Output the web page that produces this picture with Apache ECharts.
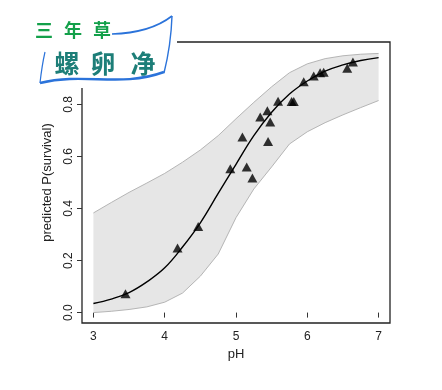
<!DOCTYPE html>
<html>
<head>
<meta charset="utf-8">
<script src="https://cdn.jsdelivr.net/npm/echarts@6/dist/echarts.min.js"></script>
<style>
html,body{margin:0;padding:0;background:#fff;}
#chart{width:442px;height:390px;}
</style>
</head>
<body>
<div id="chart"></div>
<script>
// pH grid for fitted curve and confidence band
const phGrid = [3.0,3.25,3.5,3.75,4.0,4.25,4.5,4.75,5.0,5.25,5.5,5.75,6.0,6.25,6.5,6.75,7.0];
const fitValues = [0.035,0.052,0.077,0.118,0.172,0.252,0.345,0.458,0.57,0.68,0.77,0.84,0.89,0.928,0.952,0.969,0.98];
const bandUpper = [0.383,0.423,0.462,0.498,0.535,0.578,0.625,0.68,0.745,0.808,0.868,0.922,0.956,0.976,0.987,0.993,0.996];
const bandLower = [0.0,0.005,0.012,0.022,0.04,0.075,0.14,0.225,0.365,0.475,0.56,0.648,0.695,0.73,0.76,0.788,0.815];
// observed points
const obsPH = [3.45,4.18,4.47,4.92,5.09,5.15,5.23,5.34,5.44,5.45,5.48,5.59,5.78,5.81,5.95,6.09,6.18,6.23,6.56,6.64];
const obsP  = [0.072,0.248,0.331,0.553,0.675,0.56,0.517,0.752,0.776,0.658,0.733,0.812,0.811,0.811,0.887,0.909,0.922,0.924,0.939,0.963];
// axis ticks
const xTicks = [3,4,5,6,7];
const yTicks = [0.0,0.2,0.4,0.6,0.8];

const chart = echarts.init(document.getElementById('chart'));
const pair = (xs, ys) => xs.map((x,i)=>[x, ys[i]]);
const font = "'Liberation Sans', Arial, sans-serif";
const cjk = "'Noto Sans CJK SC', sans-serif";
const bandRows = phGrid.map((x,i)=>[x, bandLower[i], bandUpper[i]]);

chart.setOption({
  animation: false,
  backgroundColor: '#fff',
  grid: {left: 82, right: 52, top: 42, bottom: 67, show: true, borderColor: '#222', borderWidth: 1.3, backgroundColor: 'transparent'},
  xAxis: {
    type: 'value', min: 2.84, max: 7.16,
    name: 'pH', nameLocation: 'middle', nameGap: 23,
    nameTextStyle: {fontFamily: font, fontSize: 13, color: '#222'},
    axisLine: {show: false},
    splitLine: {show: false},
    axisTick: {show: true, customValues: xTicks, length: 5, lineStyle: {color: '#333'}},
    axisLabel: {customValues: xTicks, margin: 8, fontFamily: font, fontSize: 12, color: '#222', formatter: v => String(v)}
  },
  yAxis: {
    type: 'value', min: -0.04, max: 1.04,
    name: 'predicted P(survival)', nameLocation: 'middle', nameGap: 28,
    nameTextStyle: {fontFamily: font, fontSize: 13, color: '#222'},
    axisLine: {show: false},
    splitLine: {show: false},
    axisTick: {show: true, customValues: yTicks, length: 5, lineStyle: {color: '#333'}},
    axisLabel: {customValues: yTicks, rotate: 90, margin: 7, fontFamily: font, fontSize: 12, color: '#222', formatter: v => v.toFixed(1)}
  },
  series: [
    {
      type: 'custom', silent: true, z: 1,
      data: bandRows,
      encode: {x: 0, y: [1, 2]},
      renderItem: function (params, api) {
        if (params.dataIndex !== 0) return null;
        const top = bandRows.map(r => api.coord([r[0], r[2]]));
        const bot = bandRows.slice().reverse().map(r => api.coord([r[0], r[1]]));
        return {type: 'polygon', shape: {points: top.concat(bot)}, style: {fill: '#e6e6e6', stroke: null}};
      }
    },
    {type: 'line', data: pair(phGrid, bandUpper), symbol: 'none', lineStyle: {color: '#b5b5b5', width: 1}, z: 2},
    {type: 'line', data: pair(phGrid, bandLower), symbol: 'none', lineStyle: {color: '#b5b5b5', width: 1}, z: 2},
    {type: 'line', data: pair(phGrid, fitValues), symbol: 'none', smooth: 0.4, lineStyle: {color: '#000', width: 1.4}, z: 3},
    {type: 'scatter', data: pair(obsPH, obsP), symbol: 'triangle', symbolSize: [10, 9], itemStyle: {color: '#000'}, z: 4}
  ],
  graphic: [
    {type: 'rect', z: 100, shape: {x: 0, y: 0, width: 177, height: 88}, style: {fill: '#fff'}},
    {type: 'bezierCurve', z: 101, shape: {x1: 112, y1: 34, cpx1: 150, cpy1: 33, x2: 172, y2: 16}, style: {stroke: '#2b73da', lineWidth: 1.6, fill: 'none'}},
    {type: 'bezierCurve', z: 101, shape: {x1: 172, y1: 16, cpx1: 171, cpy1: 45, x2: 164, y2: 73}, style: {stroke: '#2b73da', lineWidth: 1.4, fill: 'none'}},
    {type: 'bezierCurve', z: 101, shape: {x1: 40, y1: 83, cpx1: 85, cpy1: 72, cpx2: 120, cpy2: 88, x2: 164, y2: 72}, style: {stroke: '#2b73da', lineWidth: 2.4, fill: 'none'}},
    {type: 'bezierCurve', z: 101, shape: {x1: 45, y1: 52, cpx1: 42, cpy1: 65, x2: 40, y2: 83}, style: {stroke: '#2b73da', lineWidth: 1.2, fill: 'none'}},
    {type: 'text', z: 102, x: 44, y: 30, style: {text: '三', font: 'bold 18px ' + cjk, fill: '#13a04a', textAlign: 'center', textVerticalAlign: 'middle'}},
    {type: 'text', z: 102, x: 73, y: 30, style: {text: '年', font: 'bold 18px ' + cjk, fill: '#13a04a', textAlign: 'center', textVerticalAlign: 'middle'}},
    {type: 'text', z: 102, x: 102, y: 30, style: {text: '草', font: 'bold 18px ' + cjk, fill: '#13a04a', textAlign: 'center', textVerticalAlign: 'middle'}},
    {type: 'text', z: 102, x: 67, y: 63, style: {text: '螺', font: 'bold 25px ' + cjk, fill: '#1d7e78', textAlign: 'center', textVerticalAlign: 'middle'}},
    {type: 'text', z: 102, x: 103, y: 63, style: {text: '卵', font: 'bold 25px ' + cjk, fill: '#1d7e78', textAlign: 'center', textVerticalAlign: 'middle'}},
    {type: 'text', z: 102, x: 143, y: 63, style: {text: '净', font: 'bold 25px ' + cjk, fill: '#1d7e78', textAlign: 'center', textVerticalAlign: 'middle'}}
  ]
});
</script>
</body>
</html>
